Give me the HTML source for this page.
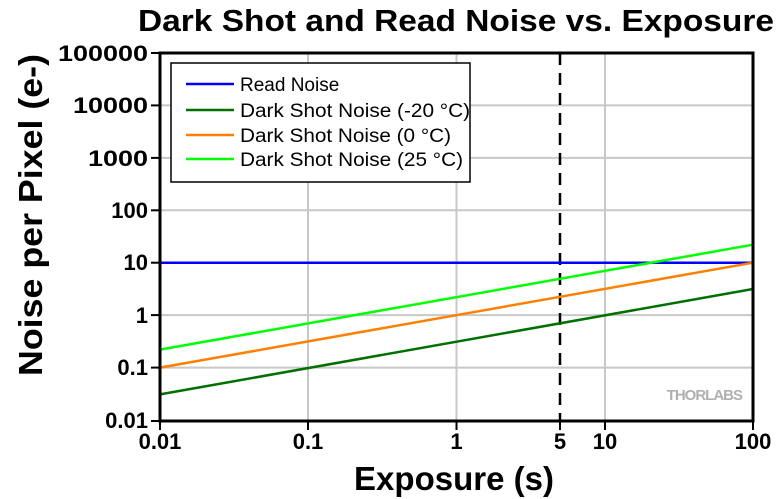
<!DOCTYPE html>
<html><head><style>body{margin:0;background:#fff}svg{display:block}text{font-family:"Liberation Sans",Arial,sans-serif}</style></head><body>
<svg width="780" height="499" xmlns="http://www.w3.org/2000/svg">
<text x="456" y="31" font-size="31" font-weight="bold" text-anchor="middle" textLength="636" lengthAdjust="spacingAndGlyphs">Dark Shot and Read Noise vs. Exposure</text>
<g stroke="#c8c8c8" stroke-width="2">
<line x1="308" y1="53" x2="308" y2="421"/><line x1="456.5" y1="53" x2="456.5" y2="421"/><line x1="605" y1="53" x2="605" y2="421"/>
<line x1="160" y1="105.4" x2="753" y2="105.4"/><line x1="160" y1="157.9" x2="753" y2="157.9"/><line x1="160" y1="210.3" x2="753" y2="210.3"/><line x1="160" y1="262.7" x2="753" y2="262.7"/><line x1="160" y1="315.1" x2="753" y2="315.1"/><line x1="160" y1="367.6" x2="753" y2="367.6"/>
</g>
<line x1="560" y1="53" x2="560" y2="421" stroke="#000" stroke-width="2.5" stroke-dasharray="12,8"/>
<text x="742" y="400" font-size="15" font-weight="bold" fill="#b0b0b0" text-anchor="end" letter-spacing="-1">THORLABS</text>
<g stroke-width="2.5" fill="none">
<line x1="160" y1="262.7" x2="753" y2="262.7" stroke="#0000ff"/>
<line x1="160" y1="394.4" x2="753" y2="289" stroke="#007000"/>
<line x1="160" y1="367.6" x2="753" y2="262.7" stroke="#ff8000"/>
<line x1="160" y1="349.6" x2="753" y2="244.7" stroke="#00ff00"/>
</g>
<rect x="171" y="63" width="299" height="119" fill="#fff" stroke="#000" stroke-width="1.5"/>
<g stroke-width="2.5">
<line x1="186" y1="84" x2="234" y2="84" stroke="#0000ff"/>
<line x1="186" y1="110" x2="234" y2="110" stroke="#007000"/>
<line x1="186" y1="135" x2="234" y2="135" stroke="#ff8000"/>
<line x1="186" y1="159" x2="234" y2="159" stroke="#00ff00"/>
</g>
<g font-size="19"><text x="240" y="91">Read Noise</text><text x="240" y="117" textLength="230" lengthAdjust="spacingAndGlyphs">Dark Shot Noise (-20 °C)</text><text x="240" y="142" textLength="211" lengthAdjust="spacingAndGlyphs">Dark Shot Noise (0 °C)</text><text x="240" y="166" textLength="223" lengthAdjust="spacingAndGlyphs">Dark Shot Noise (25 °C)</text></g>
<rect x="160" y="53" width="593" height="368" fill="none" stroke="#000" stroke-width="3"/>
<g stroke="#000" stroke-width="2">
<line x1="151" y1="53" x2="160" y2="53"/><line x1="151" y1="105.4" x2="160" y2="105.4"/><line x1="151" y1="157.9" x2="160" y2="157.9"/><line x1="151" y1="210.3" x2="160" y2="210.3"/><line x1="151" y1="262.7" x2="160" y2="262.7"/><line x1="151" y1="315.1" x2="160" y2="315.1"/><line x1="151" y1="367.6" x2="160" y2="367.6"/><line x1="151" y1="421" x2="160" y2="421"/>
<line x1="160" y1="421" x2="160" y2="430"/><line x1="308" y1="421" x2="308" y2="430"/><line x1="456.5" y1="421" x2="456.5" y2="430"/><line x1="560" y1="421" x2="560" y2="430"/><line x1="605" y1="421" x2="605" y2="430"/><line x1="753" y1="421" x2="753" y2="430"/>
</g>
<g id="mt" stroke="#000" stroke-width="1.5"></g>
<script>
var g=document.getElementById('mt'),s='';
for(var d=0;d<7;d++)for(var k=2;k<10;k++){var y=421-(d+Math.log10(k))*52.43;s+='<line x1="154" y1="'+y+'" x2="160" y2="'+y+'"/>';}
for(var d=0;d<4;d++)for(var k=2;k<10;k++){var x=160+(d+Math.log10(k))*148.25;s+='<line x1="'+x+'" y1="415" x2="'+x+'" y2="421"/>';}
g.innerHTML=s;
</script>
<g font-size="22" font-weight="bold" text-anchor="end">
<text x="148" y="61" textLength="90" lengthAdjust="spacingAndGlyphs">100000</text><text x="148" y="113" textLength="75" lengthAdjust="spacingAndGlyphs">10000</text><text x="148" y="166" textLength="60" lengthAdjust="spacingAndGlyphs">1000</text><text x="148" y="218">100</text><text x="148" y="270">10</text><text x="148" y="323">1</text><text x="148" y="375">0.1</text><text x="148" y="428">0.01</text>
</g>
<g font-size="22" font-weight="bold" text-anchor="middle">
<text x="160" y="449">0.01</text><text x="308" y="449">0.1</text><text x="456.5" y="449">1</text><text x="560" y="449">5</text><text x="605" y="449">10</text><text x="753" y="449">100</text>
</g>
<text x="454" y="490" font-size="33" font-weight="bold" text-anchor="middle">Exposure (s)</text>
<text transform="translate(42,215) rotate(-90)" font-size="33" font-weight="bold" text-anchor="middle" textLength="322" lengthAdjust="spacingAndGlyphs">Noise per Pixel (e-)</text>
</svg>
</body></html>
